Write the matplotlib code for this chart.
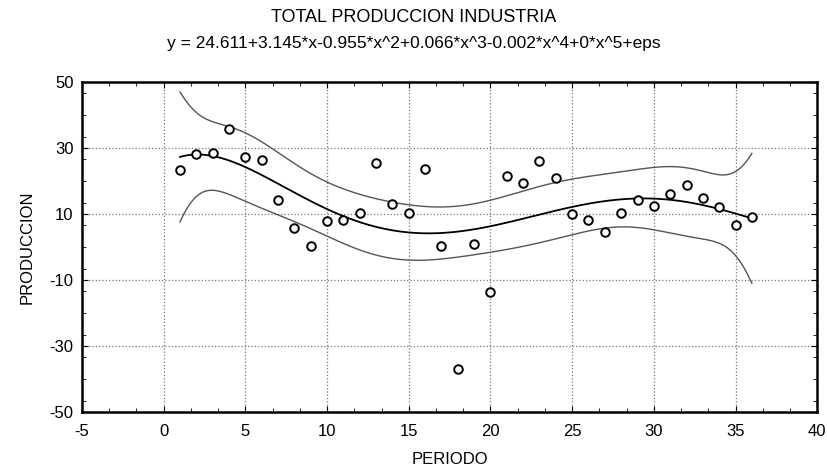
import numpy as np
import matplotlib.pyplot as plt
from matplotlib.ticker import MultipleLocator

# Data
periodo = np.arange(1, 37)
produccion = np.array([23.3, 28.0, 28.5, 35.8, 27.3, 26.3, 14.3, 5.7, 0.3, 7.7,
                       8.2, 10.3, 25.5, 12.9, 10.2, 23.5, 0.3, -36.9, 0.8, -13.6,
                       21.6, 19.3, 26.0, 20.9, 9.9, 8.0, 4.5, 10.3, 14.3, 12.4,
                       15.9, 18.7, 14.9, 12.1, 6.7, 9.0])

titulo = "TOTAL PRODUCCION INDUSTRIA"
ecuacion = "y = 24.611+3.145*x-0.955*x^2+0.066*x^3-0.002*x^4+0*x^5+eps"

# degree 5 polynomial fit and 95% confidence band for the mean
deg = 5
X = np.vander(periodo, deg + 1, increasing=True).astype(float)
beta, *_ = np.linalg.lstsq(X, produccion, rcond=None)
resid = produccion - X @ beta
dof = len(periodo) - (deg + 1)
s2 = resid @ resid / dof
XtX_inv = np.linalg.inv(X.T @ X)
t_crit = 2.042  # t(0.975, 30)

xs = np.linspace(periodo.min(), periodo.max(), 300)
Xs = np.vander(xs, deg + 1, increasing=True)
fit = Xs @ beta
se = np.sqrt(s2 * np.einsum("ij,jk,ik->i", Xs, XtX_inv, Xs))
upper = fit + t_crit * se
lower = fit - t_crit * se

plt.rcParams['font.family'] = ['Liberation Sans', 'DejaVu Sans']
plt.rcParams['axes.unicode_minus'] = False

fig = plt.figure(figsize=(8.28, 4.73), dpi=100)
ax = fig.add_axes([0.099, 0.129, 0.888, 0.698])

ax.plot(xs, upper, color="#555555", lw=1.0)
ax.plot(xs, lower, color="#555555", lw=1.0)
ax.plot(xs, fit, color="black", lw=1.3)
ax.scatter(periodo, produccion, s=38, facecolors="white", edgecolors="black",
           linewidths=1.4, zorder=3)

ax.set_xlim(-5, 40)
ax.set_ylim(-50, 50)
ax.xaxis.set_major_locator(MultipleLocator(5))
ax.xaxis.set_minor_locator(MultipleLocator(5 / 3))
ax.yaxis.set_minor_locator(MultipleLocator(20 / 3))
ax.set_yticks([-50, -30, -10, 10, 30, 50])
ax.grid(True, which="major", linestyle=":", color="#777777", lw=0.9)
ax.tick_params(which="both", direction="in", top=True, right=True, labelsize=12)
ax.tick_params(which="major", length=4)
ax.tick_params(which="minor", length=3)
ax.tick_params(axis="x", which="major", pad=9)
ax.tick_params(axis="y", which="major", pad=6)
for sp in ax.spines.values():
    sp.set_linewidth(1.8)

ax.set_xlabel("PERIODO", fontsize=12, labelpad=9)
ax.set_ylabel("PRODUCCION", fontsize=12, labelpad=11)
fig.text(0.5, 0.962, titulo, ha="center", va="center", fontsize=13)
fig.text(0.5, 0.908, ecuacion, ha="center", va="center", fontsize=12.5)

fig.savefig("out.png", dpi=100)
